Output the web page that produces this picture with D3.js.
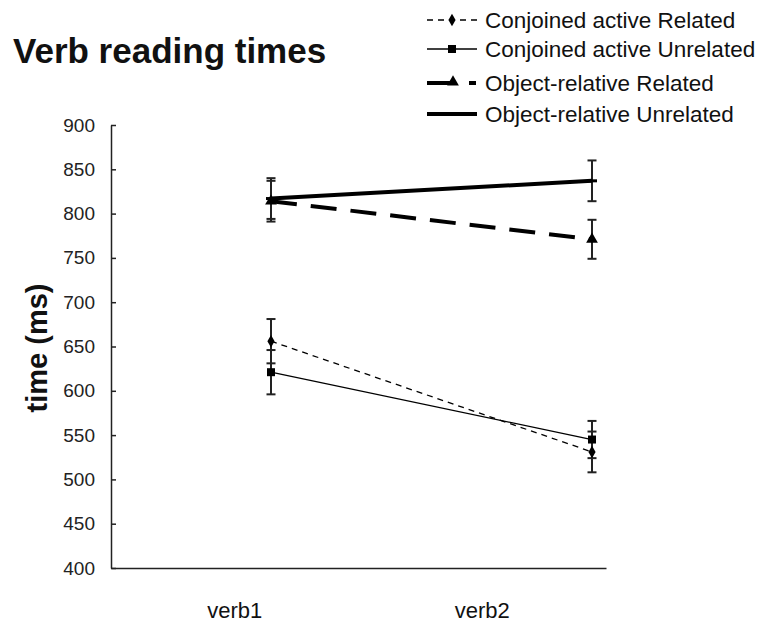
<!DOCTYPE html>
<html>
<head>
<meta charset="utf-8">
<script src="https://cdn.jsdelivr.net/npm/d3@7"></script>
<style>
  body { margin: 0; background: #fff; }
  svg { font-family: "Liberation Sans", Arial, sans-serif; }
</style>
</head>
<body>
<div id="chart"></div>
<script>
// Chart data
const categories = ["verb1", "verb2"];
const yTicks = [400, 450, 500, 550, 600, 650, 700, 750, 800, 850, 900];

const seriesNames = [
    "Conjoined active Related",
    "Conjoined active Unrelated",
    "Object-relative Related",
    "Object-relative Unrelated"
];
const caRelated = [656, 531];
const caRelatedErr = [25, 23];
const caUnrelated = [621, 545];
const caUnrelatedErr = [25, 21];
const orRelated = [814, 771];
const orRelatedErr = [23, 22];
const orUnrelated = [817, 837];
const orUnrelatedErr = [23, 23];

const width = 773;
const height = 633;

const svg = d3.select("#chart")
    .append("svg")
    .attr("width", width)
    .attr("height", height);

// Scales
const y = d3.scaleLinear().domain([400, 900]).range([568, 125]);
const xBand = d3.scaleBand().domain(categories).range([111, 606]);
const xPoint = d3.scalePoint().domain(categories).range([271, 592]);

// styles per series
const styles = [
    { values: caRelated, err: caRelatedErr, width: 1.3, dash: "6,5", marker: "diamond" },
    { values: caUnrelated, err: caUnrelatedErr, width: 1.3, dash: null, marker: "square" },
    { values: orRelated, err: orRelatedErr, width: 4, dash: "26,14", marker: "triangle" },
    { values: orUnrelated, err: orUnrelatedErr, width: 4, dash: null, marker: "dash" }
];

// Title
svg.append("text")
    .attr("x", 13)
    .attr("y", 63)
    .attr("font-size", 35)
    .attr("font-weight", "bold")
    .attr("fill", "#111")
    .text("Verb reading times");

// Y axis
const yAxis = svg.append("g")
    .attr("transform", "translate(111,0)")
    .call(d3.axisLeft(y).tickValues(yTicks).tickSizeInner(-5).tickSizeOuter(0).tickPadding(16));
yAxis.selectAll("path, line").attr("stroke", "#222").attr("stroke-width", 1.5);
yAxis.selectAll("text")
    .attr("font-size", 19)
    .attr("font-family", "Liberation Sans, Arial, sans-serif")
    .attr("fill", "#222");

// X axis
const xAxis = svg.append("g")
    .attr("transform", "translate(0,568)")
    .call(d3.axisBottom(xBand).tickSize(0).tickSizeOuter(0).tickPadding(34));
xAxis.select(".domain").attr("stroke", "#222").attr("stroke-width", 1.5);
xAxis.selectAll("text")
    .attr("font-size", 22)
    .attr("font-family", "Liberation Sans, Arial, sans-serif")
    .attr("fill", "#111");

// Y label
svg.append("text")
    .attr("transform", "translate(37,348) rotate(-90)")
    .attr("text-anchor", "middle")
    .attr("dominant-baseline", "central")
    .attr("font-size", 29)
    .attr("font-weight", "bold")
    .attr("fill", "#111")
    .text("time (ms)");

// Marker shapes
function markerPath(type) {
    if (type === "diamond") return d3.symbol(d3.symbolDiamond, 45)();
    if (type === "square") return d3.symbol(d3.symbolSquare, 64)();
    if (type === "triangle") return d3.symbol(d3.symbolTriangle, 60)();
    return "M-5,-1.5H5V1.5H-5Z";
}

const line = d3.line()
    .x((d, i) => xPoint(categories[i]))
    .y(d => y(d));

// Error bars
styles.forEach(s => {
    const g = svg.append("g");
    categories.forEach((c, i) => {
        const cx = xPoint(c);
        const top = y(s.values[i] + s.err[i]);
        const bot = y(s.values[i] - s.err[i]);
        g.append("line").attr("x1", cx).attr("x2", cx).attr("y1", top).attr("y2", bot)
            .attr("stroke", "#222").attr("stroke-width", 2);
        [top, bot].forEach(yy => {
            g.append("line").attr("x1", cx - 4.5).attr("x2", cx + 4.5).attr("y1", yy).attr("y2", yy)
                .attr("stroke", "#222").attr("stroke-width", 2);
        });
    });
});

// Lines and markers
styles.forEach(s => {
    svg.append("path")
        .datum(s.values)
        .attr("fill", "none")
        .attr("stroke", "#000")
        .attr("stroke-width", s.width)
        .attr("stroke-dasharray", s.dash)
        .attr("d", line);
    svg.selectAll(null)
        .data(s.values)
        .enter()
        .append("path")
        .attr("transform", (d, i) => `translate(${xPoint(categories[i])},${y(d)})`)
        .attr("d", markerPath(s.marker))
        .attr("fill", "#000");
});

// Legend
const legendRows = [20, 49, 83, 114];
styles.forEach((s, i) => {
    const ly = legendRows[i];
    const g = svg.append("g").attr("transform", `translate(0,${ly})`);
    if (s.marker === "triangle") {
        g.append("line").attr("x1", 427).attr("x2", 453).attr("y1", 0).attr("y2", 0)
            .attr("stroke", "#000").attr("stroke-width", s.width);
        g.append("line").attr("x1", 469).attr("x2", 476).attr("y1", 0).attr("y2", 0)
            .attr("stroke", "#000").attr("stroke-width", s.width);
    } else {
        g.append("line").attr("x1", 427).attr("x2", 477).attr("y1", 0).attr("y2", 0)
            .attr("stroke", "#000").attr("stroke-width", s.width)
            .attr("stroke-dasharray", s.dash);
    }
    g.append("path")
        .attr("transform", `translate(${s.marker === "triangle" ? 453 : 452},${s.marker === "triangle" ? -1 : 0})`)
        .attr("d", markerPath(s.marker))
        .attr("fill", "#000");
    g.append("text")
        .attr("x", 485)
        .attr("y", 0)
        .attr("dominant-baseline", "central")
        .attr("font-size", 22.5)
        .attr("fill", "#111")
        .text(seriesNames[i]);
});
</script>
</body>
</html>
